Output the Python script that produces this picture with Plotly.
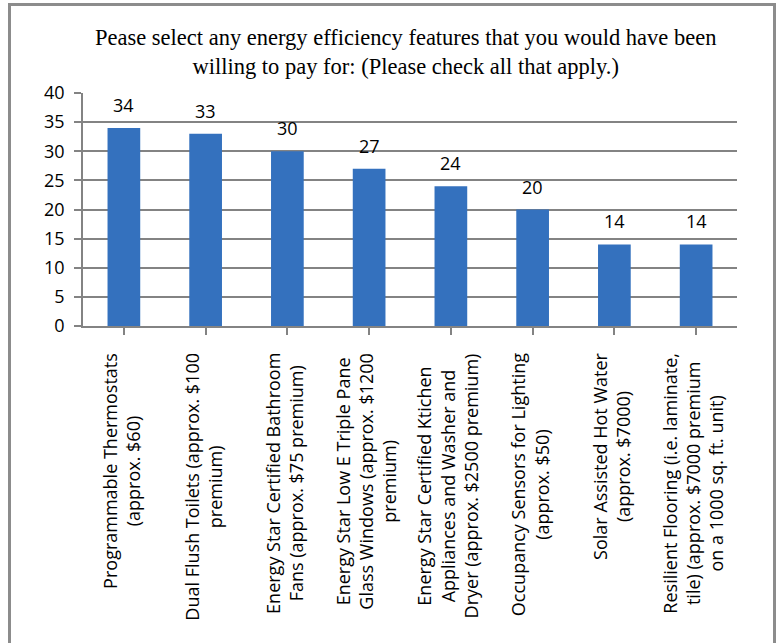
import plotly.graph_objects as go

categories = [
    "Programmable Thermostats<br>(approx. $60)",
    "Dual Flush Toilets (approx. $100<br>premium)",
    "Energy Star Certified Bathroom<br>Fans (approx. $75 premium)",
    "Energy Star Low E Triple Pane<br>Glass Windows (approx. $1200<br>premium)",
    "Energy Star Certified Ktichen<br>Appliances and Washer and<br>Dryer (approx. $2500 premium)",
    "Occupancy Sensors for Lighting<br>(approx. $50)",
    "Solar Assisted Hot Water<br>(approx. $7000)",
    "Resilient Flooring (i.e. laminate,<br>tile) (approx. $7000 premium<br>on a 1000 sq. ft. unit)",
]
values = [34, 33, 30, 27, 24, 20, 14, 14]
y_ticks = [0, 5, 10, 15, 20, 25, 30, 35, 40]
title_text = ("Pease select any energy efficiency features that you would have been<br>"
              "willing to pay for: (Please check all that apply.)")

xs = list(range(len(categories)))

W, H = 778, 643
# page-pixel positions of the plot area
PL, PR, PT, PB = 83, 737, 93, 326
L, T, R, B = PL, PT, W - PR, H - PB
ph = H - T - B
pw = W - L - R

def py(pix):
    return (PB - pix) / ph

def px(pix):
    return (pix - PL) / pw

fig = go.Figure()
fig.add_trace(go.Bar(
    x=xs, y=values, width=0.4,
    marker=dict(color="#3471be", line=dict(width=0)),
    hoverinfo="skip",
))

annotations = []
for x, v in zip(xs, values):
    annotations.append(dict(
        x=x, y=v, xref="x", yref="y", text=str(v), showarrow=False,
        yanchor="bottom", xanchor="center", yshift=9,
        font=dict(family="Open Sans", size=18, color="#000000"),
    ))
for x, c in zip(xs, categories):
    annotations.append(dict(
        x=x, y=py(351), xref="x", yref="paper", text=c, showarrow=False,
        textangle=-90, align="center", yanchor="top", xanchor="center", xshift=-3,
        font=dict(family="Open Sans", size=18, color="#000000"),
    ))
annotations.append(dict(
    x=px(405), y=py(52), xref="paper", yref="paper", text=title_text,
    showarrow=False, align="center", xanchor="center", yanchor="middle",
    font=dict(family="Liberation Serif", size=22.5, color="#000000"),
))

fig.update_layout(
    width=W, height=H,
    margin=dict(l=L, r=R, t=T, b=B, pad=0),
    paper_bgcolor="white", plot_bgcolor="white",
    showlegend=False,
    annotations=annotations,
    shapes=[dict(
        type="rect", xref="paper", yref="paper",
        x0=px(9.5), x1=px(774.5), y0=py(670), y1=py(4.5),
        line=dict(color="#8c8c8c", width=3), layer="below",
    )],
    xaxis=dict(
        range=[-0.5, len(categories) - 0.5],
        tickmode="array", tickvals=xs, ticktext=["" for _ in xs],
        showticklabels=False, tickson="boundaries", ticks="outside",
        ticklen=7, tickwidth=1.5, tickcolor="#838383",
        showline=True, linecolor="#838383", linewidth=1.5,
        showgrid=False, zeroline=False, fixedrange=True,
    ),
    yaxis=dict(
        range=[0, 40], tickmode="array", tickvals=y_ticks,
        ticks="outside", ticklen=7, tickwidth=1.5, tickcolor="#838383",
        showline=True, linecolor="#838383", linewidth=1.5,
        showgrid=True, gridcolor="#838383", gridwidth=1.5,
        zeroline=False, ticklabelstandoff=6,
        tickfont=dict(family="Open Sans", size=18, color="#000000"),
        fixedrange=True,
    ),
)

fig.write_html(
    "out.html",
    config={"displayModeBar": False},
    post_script="document.body.style.margin='0';document.body.style.overflow='hidden';",
)
